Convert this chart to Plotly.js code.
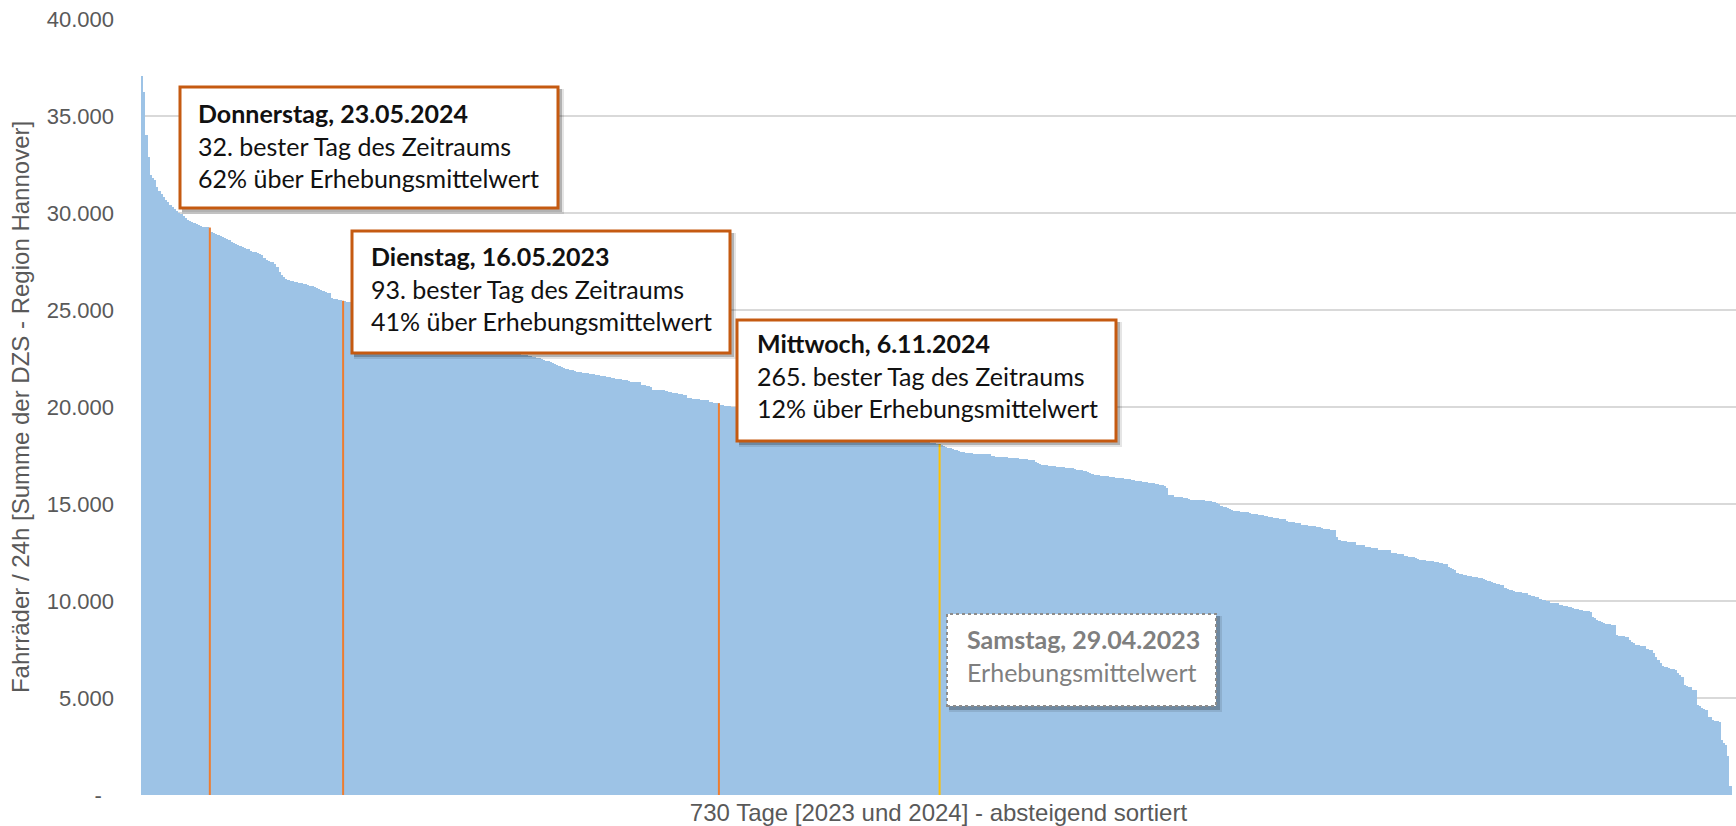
<!DOCTYPE html>
<html>
<head>
<meta charset="utf-8">
<script src="https://cdn.plot.ly/plotly-3.0.1.min.js"></script>
<style>
html,body{margin:0;padding:0;background:#ffffff;}
#chart{width:1736px;height:826px;}
</style>
</head>
<body>
<div id="chart"></div>
<script>
// Daily bicycle counts (sum of all counting stations), 730 days sorted descending
const dailyCounts = [
37050,36240,34000,32890,31950,31780,31700,31350,31150,31000,
30800,30660,30550,30420,30320,30200,30100,30000,29950,29850,
29720,29630,29600,29520,29460,29420,29380,29330,29300,29280,
29260,29250,
29030,28990,28940,28880,28810,28760,28700,28640,
28590,28520,28460,28420,28370,28320,28260,28220,28170,28120,
28060,28010,27980,27940,27900,27860,27660,27600,27540,27500,
27460,27380,27200,26980,26800,26700,26600,26550,26520,26490,
26460,26440,26410,26380,26350,26320,26290,26260,26220,26180,
26140,26090,26050,26000,25950,25900,25860,25620,25580,25550,
25530,25500,25480,25440,25420,25400,25380,
25340,25290,25250,
25220,25170,25110,25080,25050,24990,24950,24920,24860,24820,
24790,24740,24700,24670,24610,24570,24540,24490,24460,24420,
24380,24350,24300,24260,24240,24190,24150,24120,24080,24040,
24000,23980,23930,23900,23870,23830,23790,23770,23720,23690,
23660,23630,23590,23560,23540,23500,23460,23440,23400,23370,
23340,23320,23280,23250,23230,23190,23160,23140,23100,23080,
23050,23030,22990,22970,22940,22920,22890,22860,22840,22810,
22790,22770,22740,22720,
22700,22680,22660,22640,22620,22600,
22580,22550,22510,22470,22430,22390,22350,22310,22280,22240,
22190,22130,22070,
22000,21980,21960,21930,21900,21850,21830,
21820,21810,21760,21740,21730,21720,21710,21680,21650,21640,
21620,21610,21590,21570,21560,21490,21470,21450,21440,21420,
21410,21400,21390,21320,21310,21300,21300,21290,21280,21140,
21120,21100,21070,21040,20890,20880,20880,20870,20870,20860,
20850,20790,20770,20740,20720,20700,20680,20650,20630,20610,
20450,20440,20420,20410,20400,20390,20380,20370,20360,20340,
20270,20250,20230,20210,20190,20100,20080,20070,20050,20030,
20020,20010,
19990,19970,19940,19930,19910,19880,19870,19850,
19820,19800,19790,19760,19740,19710,19700,19680,19650,19640,
19620,19590,19580,19560,19530,19520,19500,19470,19460,19440,
19420,19390,19370,19350,19340,19310,19290,19270,19250,19220,
19210,19190,19160,19150,19130,19100,19090,19070,19040,19030,
19010,18980,18970,18950,18920,18910,18890,18860,18850,18830,
18810,18780,18770,18750,18720,18710,18690,18660,18650,18630,
18610,18580,18570,18550,18520,18510,18490,18460,18450,18430,
18410,18380,18370,18350,18320,18300,18280,18250,
18230,18210,18190,18170,18150,18130,18110,18090,
18040,18000,17950,17900,
17870,17840,17800,17770,17740,17700,17660,17630,17620,17610,
17610,17600,17600,17590,17590,17580,17580,17570,17560,17470,
17450,17440,17430,17420,17410,17400,17400,17390,17380,17370,
17360,17350,17340,17320,17310,17300,17290,17280,17270,17180,
17100,17050,17020,17000,16990,16970,16960,16950,16940,16930,
16920,16910,16890,16870,16860,16850,16840,16800,16770,16750,
16730,16700,16680,16660,16620,16560,16520,16500,16480,16460,
16450,16430,16420,16410,16390,16370,16360,16340,16330,16320,
16310,16290,16270,16250,16240,16210,16190,16170,16150,16140,
16120,16100,16080,16070,
16050,16020,15990,15970,15950,15810,
15480,15460,15440,15370,15360,15350,15340,15330,15300,15240,
15230,15220,15210,15210,15200,15200,15190,15180,15170,15160,
15120,15080,15030,14980,14920,14870,14820,14770,14720,14680,
14650,14640,14620,14610,14590,14580,14570,14550,14490,14480,
14470,14450,14440,14430,14380,14360,14340,14320,14300,14280,
14260,14240,14220,14210,14100,14090,14070,14050,14030,14010,
14000,13930,13910,13900,13890,13870,13860,13850,13840,13830,
13750,13730,13710,13700,13680,13670,13660,13310,13150,13110,
13090,13070,13060,13040,13030,13020,12900,12890,12880,12870,
12800,12780,12760,12740,12720,12710,12640,12630,12630,12620,
12620,12610,12500,12480,12460,12440,12420,12400,12320,12300,
12280,12260,12250,12240,12150,12120,12100,12090,12070,12060,
12050,12040,12030,12020,11970,11950,11930,11900,11770,11700,
11650,11600,11440,11400,11380,11350,11320,11300,11280,11260,
11240,11220,11190,11170,11110,11080,11050,11020,10990,10910,
10890,10870,10840,10820,10650,10620,10590,10560,10530,10480,
10460,10440,10420,10400,10390,10310,10280,10240,10210,10190,
10080,10060,10040,10020,9995,9910,9900,9890,9880,9790,
9770,9750,9730,9710,9700,9620,9600,9570,9550,9530,
9500,9480,9470,9450,9190,9100,9020,8970,8930,8850,
8830,8810,8790,8780,8760,8240,8220,8200,8180,8160,
8150,7980,7900,7810,7720,7710,7700,7680,7670,7550,
7500,7470,7300,7130,6960,6790,6650,6600,6580,6530,
6500,6470,6440,6270,6180,6100,5670,5620,5580,5550,
5410,5400,4640,4580,4510,4450,4380,4040,4030,3870,
3840,3810,3780,2830,2660,2570,2000,480,0,0
];

const dayRanks = dailyCounts.map((v, i) => i + 1);

const yTickValues = [0, 5000, 10000, 15000, 20000, 25000, 30000, 35000, 40000];
const yTickLabels = ['-\u00a0\u00a0', '5.000', '10.000', '15.000', '20.000', '25.000', '30.000', '35.000', '40.000'];

const highlightRanks = [32, 93, 265];   // orange marker lines
const meanRank = 366;                    // yellow marker line (survey mean)

const xTitleText = '730 Tage [2023 und 2024] - absteigend sortiert';
const yTitleText = 'Fahrräder / 24h [Summe der DZS - Region Hannover]';

const calloutTexts = [
  '<b>Donnerstag, 23.05.2024</b><br>32. bester Tag des Zeitraums<br>62% über Erhebungsmittelwert',
  '<b>Dienstag, 16.05.2023</b><br>93. bester Tag des Zeitraums<br>41% über Erhebungsmittelwert',
  '<b>Mittwoch, 6.11.2024</b><br>265. bester Tag des Zeitraums<br>12% über Erhebungsmittelwert',
  '<b>Samstag, 29.04.2023</b><br>Erhebungsmittelwert'
];

// ---- layout geometry (pixels) ----
const W = 1736, H = 826;
const M = {l: 141, r: 0, t: 19, b: 31};
const PW = W - M.l - M.r, PH = H - M.t - M.b;
const px = x => (x - M.l) / PW;
const py = y => (H - M.b - y) / PH;

// boxes: [x0, y0, x1, y1] in pixels, text anchor [x, yMid]
const boxGeom = [
  {box: [180, 87, 558, 208], text: [196, 145], style: 'orange'},
  {box: [352, 231, 730, 353], text: [369, 288], style: 'orange'},
  {box: [737, 320, 1116, 441], text: [755, 375], style: 'orange'},
  {box: [947, 614, 1216, 706], text: [965, 655], style: 'gray'}
];

const traces = [{
  type: 'bar',
  x: dayRanks,
  y: dailyCounts,
  marker: {color: '#9DC3E6', line: {width: 0}},
  hoverinfo: 'x+y'
}];

highlightRanks.forEach(r => {
  traces.push({
    type: 'scatter', mode: 'lines',
    x: [r, r], y: [0, dailyCounts[r - 1]],
    line: {color: '#ED7D31', width: 2},
    hoverinfo: 'skip'
  });
});
traces.push({
  type: 'scatter', mode: 'lines',
  x: [meanRank, meanRank], y: [0, dailyCounts[meanRank - 1]],
  line: {color: '#FFC000', width: 2},
  hoverinfo: 'skip'
});

const shapes = [];
const annotations = [];
boxGeom.forEach((g, i) => {
  const [x0, y0, x1, y1] = g.box;
  // soft shadow
  shapes.push({type: 'rect', xref: 'paper', yref: 'paper',
    x0: px(x0 + 2), x1: px(x1 + 6), y0: py(y1 + 6), y1: py(y0 + 2),
    fillcolor: 'rgba(0,0,0,0.10)', line: {width: 0}});
  shapes.push({type: 'rect', xref: 'paper', yref: 'paper',
    x0: px(x0 + 2), x1: px(x1 + 4), y0: py(y1 + 4), y1: py(y0 + 2),
    fillcolor: 'rgba(0,0,0,0.22)', line: {width: 0}});
  shapes.push({type: 'rect', xref: 'paper', yref: 'paper',
    x0: px(x0), x1: px(x1), y0: py(y1), y1: py(y0),
    fillcolor: '#ffffff',
    line: g.style === 'orange' ? {color: '#C55A11', width: 3} : {color: '#8C8C8C', width: 2, dash: 'dot'}});
  annotations.push({
    xref: 'paper', yref: 'paper', x: px(g.text[0]), y: py(g.text[1]),
    xanchor: 'left', yanchor: 'middle', align: 'left', showarrow: false,
    text: calloutTexts[i],
    font: {family: 'Lato, "Noto Sans", sans-serif', size: 25, color: g.style === 'orange' ? '#111111' : '#7F7F7F'}
  });
});

const tickFont = {family: '"Liberation Sans", Arial, sans-serif', size: 22, color: '#595959'};
const titleFont = {family: '"Liberation Sans", Arial, sans-serif', size: 24, color: '#595959'};

const layout = {
  width: W, height: H,
  margin: M,
  paper_bgcolor: '#ffffff', plot_bgcolor: '#ffffff',
  showlegend: false,
  bargap: 0,
  xaxis: {
    range: [0.5, dailyCounts.length + 0.5],
    showticklabels: false, ticks: '', showgrid: false, zeroline: false, showline: false,
    fixedrange: true,
    title: {text: xTitleText, font: titleFont, standoff: 13}
  },
  yaxis: {
    range: [0, 40000],
    tickmode: 'array', tickvals: yTickValues, ticktext: yTickLabels,
    tickfont: tickFont, ticks: '', ticklabelstandoff: 26,
    showgrid: true, gridcolor: '#D9D9D9', gridwidth: 1.5,
    zeroline: false, showline: false, fixedrange: true,
    title: {text: yTitleText, font: titleFont, standoff: 10}
  },
  shapes: shapes,
  annotations: annotations
};

Plotly.newPlot('chart', traces, layout, {displayModeBar: false, staticPlot: true});
</script>
</body>
</html>
